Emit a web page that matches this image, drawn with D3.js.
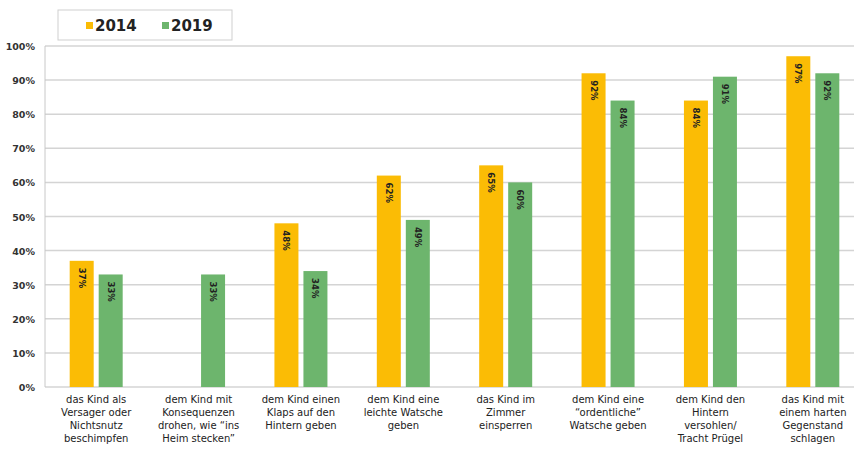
<!DOCTYPE html>
<html>
<head>
<meta charset="utf-8">
<script src="https://cdn.jsdelivr.net/npm/d3@7"></script>
<style>
  body { margin: 0; background: #fff; }
  text { font-family: "DejaVu Sans", sans-serif; }
</style>
</head>
<body>
<div id="main"></div>
<script>
var categories = [
  ["das Kind als", "Versager oder", "Nichtsnutz", "beschimpfen"],
  ["dem Kind mit", "Konsequenzen", "drohen, wie \u201cins", "Heim stecken\u201d"],
  ["dem Kind einen", "Klaps auf den", "Hintern geben"],
  ["dem Kind eine", "leichte Watsche", "geben"],
  ["das Kind im", "Zimmer", "einsperren"],
  ["dem Kind eine", "\u201cordentliche\u201d", "Watsche geben"],
  ["dem Kind den", "Hintern", "versohlen/", "Tracht Prügel"],
  ["das Kind mit", "einem harten", "Gegenstand", "schlagen"]
];
var years = ["2014", "2019"];
var values2014 = [37, null, 48, 62, 65, 92, 84, 97];
var values2019 = [33, 33, 34, 49, 60, 84, 91, 92];
var yTicks = [0, 10, 20, 30, 40, 50, 60, 70, 80, 90, 100];

var colors = {"2014": "#fbbc05", "2019": "#6db56d"};
var width = 854, height = 450;

var svg = d3.select("#main").append("svg")
    .attr("width", width)
    .attr("height", height);

var x = d3.scaleBand().domain(d3.range(categories.length)).range([45, 864]).paddingInner(0).paddingOuter(0);
var y = d3.scaleLinear().domain([0, 100]).range([387, 46]);

// gridlines
svg.append("g").selectAll("line").data(yTicks).enter().append("line")
    .attr("x1", 45).attr("x2", width)
    .attr("y1", d => y(d)).attr("y2", d => y(d))
    .attr("stroke", "#d4d4d4").attr("stroke-width", 1.5);

svg.append("line").attr("x1", 45).attr("x2", 45).attr("y1", y(100)).attr("y2", y(0))
    .attr("stroke", "#c8c8c8").attr("stroke-width", 1);

svg.append("g").selectAll("text").data(yTicks).enter().append("text")
    .attr("x", 35).attr("y", d => y(d) + 4)
    .attr("text-anchor", "end")
    .attr("font-size", 9.5).attr("font-weight", "bold").attr("fill", "#333")
    .text(d => d + "%");

var series = [
  {year: "2014", values: values2014},
  {year: "2019", values: values2019}
];

var barW = 24, gap = 5;
series.forEach(function(s, si) {
  var g = svg.append("g");
  var pts = s.values.map((v, i) => ({v: v, i: i})).filter(d => d.v != null);
  g.selectAll("rect").data(pts).enter().append("rect")
      .attr("x", d => x(d.i) + x.bandwidth() / 2 - barW - gap / 2 + si * (barW + gap))
      .attr("y", d => y(d.v))
      .attr("width", barW)
      .attr("height", d => y(0) - y(d.v))
      .attr("fill", colors[s.year]);
  g.selectAll("text").data(pts).enter().append("text")
      .attr("transform", function(d) {
        var cx = x(d.i) + x.bandwidth() / 2 - barW / 2 - gap / 2 + si * (barW + gap);
        return "translate(" + (cx - 3) + "," + (y(d.v) + 7) + ") rotate(90)";
      })
      .attr("font-size", 8.5).attr("font-weight", "bold").attr("fill", "#222")
      .text(d => d.v + "%");
});

// category labels, one text per line
categories.forEach(function(lines, i) {
  svg.append("g").selectAll("text").data(lines).enter().append("text")
      .attr("x", x(i) + x.bandwidth() / 2)
      .attr("y", (d, j) => 403 + j * 13)
      .attr("text-anchor", "middle")
      .attr("font-size", 10).attr("fill", "#222")
      .text(d => d);
});

// legend
var legend = svg.append("g").attr("id", "legend");
legend.append("rect").attr("x", 58).attr("y", 10).attr("width", 174).attr("height", 30)
    .attr("fill", "#fff").attr("stroke", "#cfcfcf");
years.forEach(function(yr, i) {
  var lx = 86 + i * 76;
  legend.append("rect").attr("x", lx).attr("y", 22).attr("width", 7).attr("height", 7).attr("fill", colors[yr]);
  legend.append("text").attr("x", lx + 9).attr("y", 31)
      .attr("font-size", 15).attr("font-weight", "bold").attr("fill", "#222")
      .attr("font-family", "'Liberation Sans', Arial, sans-serif")
      .text(yr);
});
</script>
</body>
</html>
